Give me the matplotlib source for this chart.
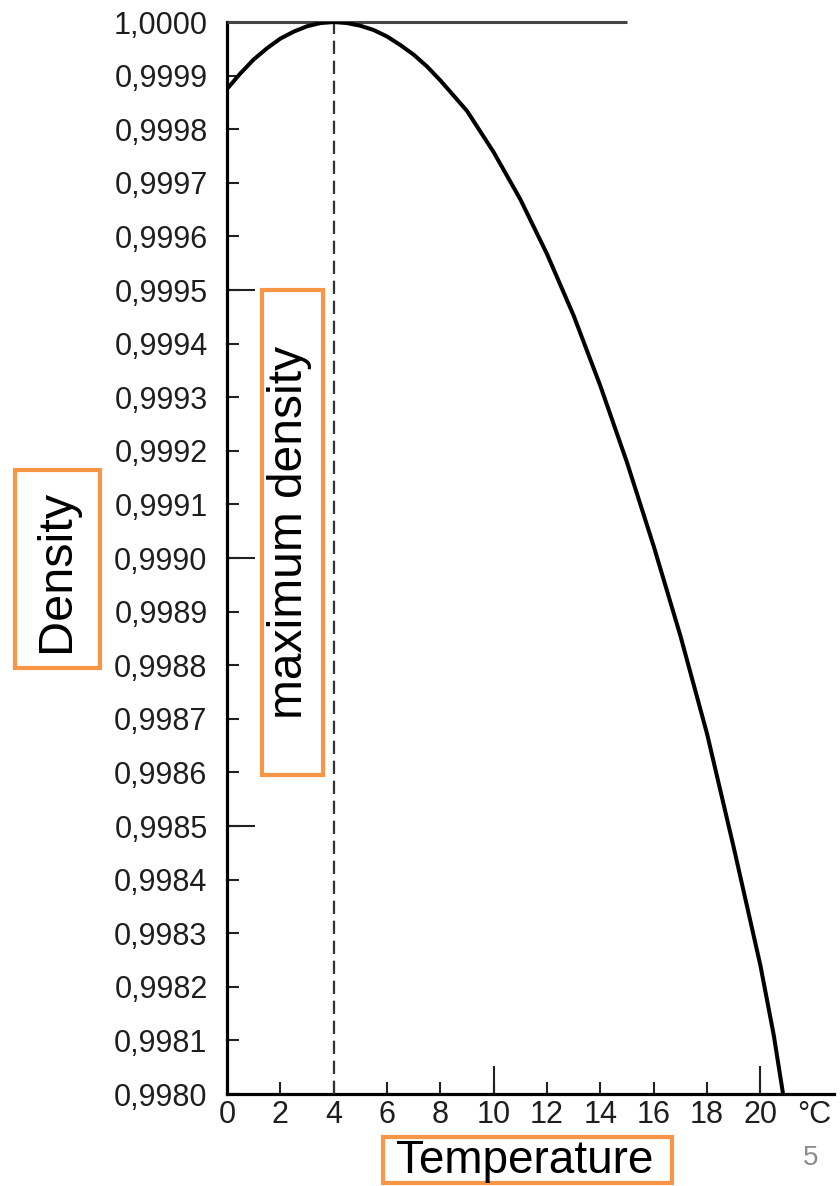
import matplotlib
matplotlib.use("Agg")
import matplotlib.pyplot as plt
from matplotlib.patches import Rectangle

plt.rcParams['font.family'] = ['Liberation Sans', 'DejaVu Sans']

# ---- data ----
temp = [0, 0.5, 1, 1.5, 2, 2.5, 3, 3.5, 4, 4.5, 5, 5.5, 6, 6.5, 7, 7.5, 8,
        9, 10, 11, 12, 13, 14, 15, 16, 17, 18, 19, 20, 20.5, 20.85]
density = [0.999875, 0.999904, 0.999930, 0.999951, 0.999969, 0.999982, 0.999992,
           0.999998, 1.000000, 0.999998, 0.999993, 0.999985, 0.999973, 0.999957,
           0.999939, 0.999917, 0.999891, 0.999834, 0.999757, 0.999669, 0.999567,
           0.999452, 0.999321, 0.999178, 0.999022, 0.998855, 0.998672, 0.998460,
           0.998240, 0.998110, 0.998000]
max_temp = 4
ref_line_end = 15
x_ticks = [0, 2, 4, 6, 8, 10, 12, 14, 16, 18, 20]
x_long_ticks = [10, 20]
y_ticks = [0.9980, 0.9981, 0.9982, 0.9983, 0.9984, 0.9985, 0.9986, 0.9987, 0.9988,
           0.9989, 0.9990, 0.9991, 0.9992, 0.9993, 0.9994, 0.9995, 0.9996, 0.9997,
           0.9998, 0.9999, 1.0000]
y_tick_labels = ['0,9980', '0,9981', '0,9982', '0,9983', '0,9984', '0,9985', '0,9986',
                 '0,9987', '0,9988', '0,9989', '0,9990', '0,9991', '0,9992', '0,9993',
                 '0,9994', '0,9995', '0,9996', '0,9997', '0,9998', '0,9999', '1,0000']
y_long_ticks = [0.9985, 0.9990, 0.9995]
unit_label = '°C'
unit_pos = 22
y_label = 'Density'
x_label = 'Temperature'
annot_label = 'maximum density'
page_number = '5'

W, H = 840, 1186
fig = plt.figure(figsize=(W / 100, H / 100), dpi=100)
fig.patch.set_facecolor('white')
ax = fig.add_axes([227 / W, 1 - 1094 / H, (834 - 227) / W, (1094 - 22) / H])

ax.plot(temp, density, color='black', lw=2.9, solid_capstyle='butt',
        solid_joinstyle='round', zorder=4)
ax.axvline(max_temp, color='#333333', lw=1.6, ls=(0, (6, 3)), zorder=3)
ax.hlines(1.0, 0, ref_line_end, color='#444444', lw=2.2, zorder=3, clip_on=False)

ax.set_xlim(0, 22.76)
ax.set_ylim(0.9980, 1.0000)

for s in ['top', 'right']:
    ax.spines[s].set_visible(False)
for s in ['left', 'bottom']:
    ax.spines[s].set_linewidth(2.3)
    ax.spines[s].set_color('black')

ax.set_xticks(x_ticks)
ax.set_xticklabels([str(t) for t in x_ticks])
ax.set_yticks(y_ticks)
ax.set_yticklabels(y_tick_labels)
ax.set_xticks(x_long_ticks, minor=True)
ax.set_yticks(y_long_ticks, minor=True)
ax.xaxis.remove_overlapping_locs = False
ax.yaxis.remove_overlapping_locs = False

ax.tick_params(axis='both', which='major', direction='in', length=8.5, width=1.5,
               color='#222222', labelsize=22, labelcolor='#1e1e1e')
ax.tick_params(axis='y', which='major', pad=14)
ax.tick_params(axis='x', which='major', pad=4)
ax.tick_params(axis='both', which='minor', direction='in', length=20, width=1.5,
               color='#222222', labelleft=False, labelbottom=False)

ax.text(unit_pos, -0.0052, unit_label, transform=ax.get_xaxis_transform(),
        ha='center', va='top', fontsize=22, color='#1e1e1e')

orange = '#F79646'
# Density box
fig.patches.append(Rectangle((15 / W, 1 - 668 / H), 85 / W, 198 / H, transform=fig.transFigure,
                             fill=True, facecolor='white', edgecolor=orange, lw=3))
fig.text(57 / W, 1 - 571 / H, y_label, rotation=90, ha='center', va='center',
         fontsize=35, color='black')
# maximum density box
fig.patches.append(Rectangle((262 / W, 1 - 775 / H), 61 / W, 485 / H, transform=fig.transFigure,
                             fill=True, facecolor='white', edgecolor=orange, lw=3, zorder=5))
fig.text(290 / W, 1 - 532 / H, annot_label, rotation=90, ha='center', va='center',
         fontsize=34.5, color='black', zorder=6)
# Temperature box
fig.patches.append(Rectangle((383 / W, 1 - 1183 / H), 289 / W, 46 / H, transform=fig.transFigure,
                             fill=True, facecolor='white', edgecolor=orange, lw=3))
fig.text(525 / W, 1 - 1161 / H, x_label, ha='center', va='center',
         fontsize=33, color='black')

fig.text(811 / W, 1 - 1158 / H, page_number, ha='center', va='center',
         fontsize=20, color='#8c8c8c')

fig.savefig('out.png', dpi=100)
